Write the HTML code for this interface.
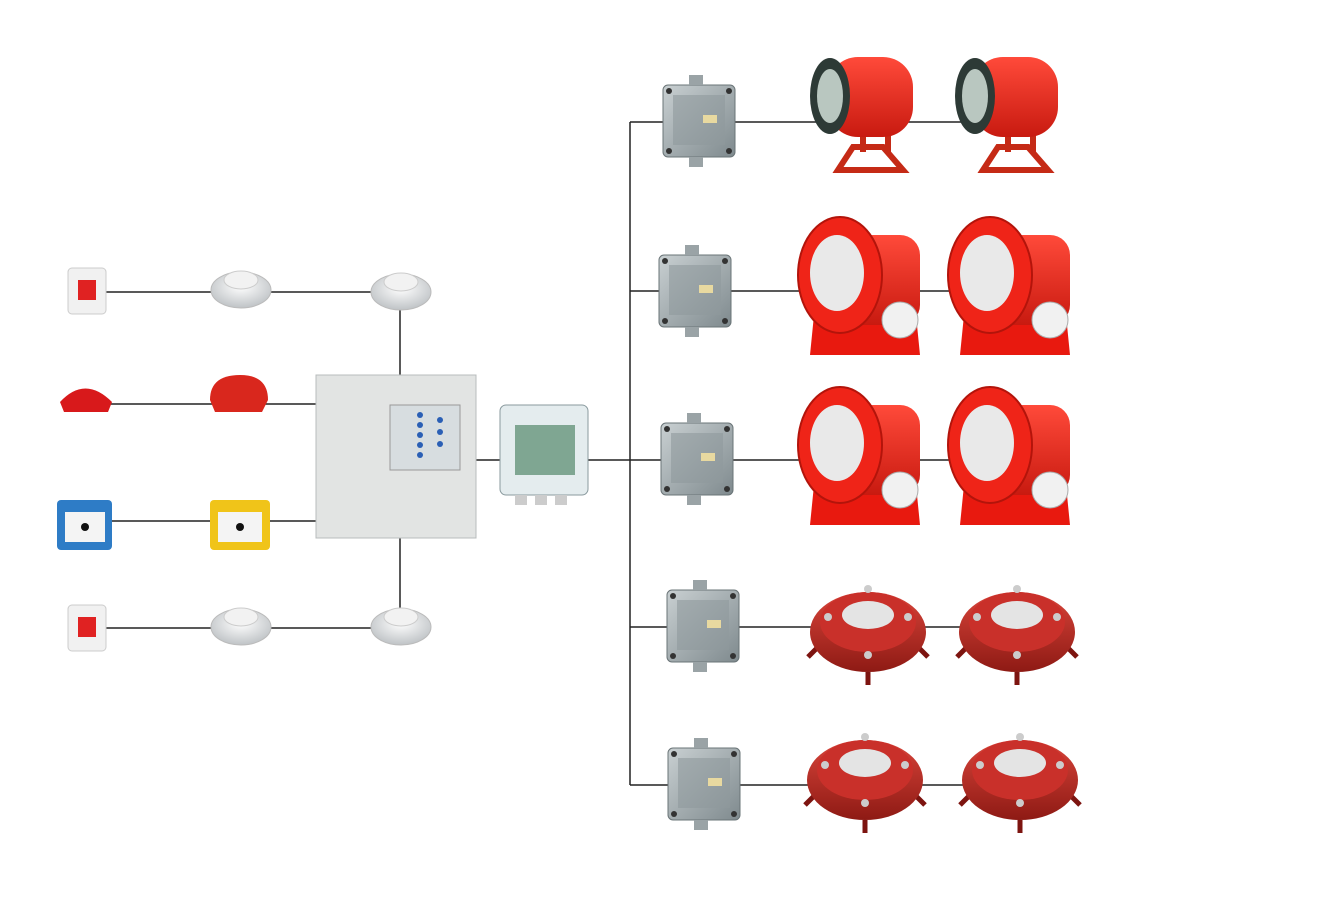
<!DOCTYPE html>
<html><head><meta charset="utf-8"><style>
html,body{margin:0;padding:0;background:#fff;}
svg{display:block}
</style></head><body>
<svg width="1325" height="906" viewBox="0 0 1325 906" xmlns="http://www.w3.org/2000/svg">
<defs>
<linearGradient id="red" x1="0" y1="0" x2="0" y2="1"><stop offset="0" stop-color="#ff4a3a"/><stop offset="1" stop-color="#c81a10"/></linearGradient>
<linearGradient id="dred" x1="0" y1="0" x2="0" y2="1"><stop offset="0" stop-color="#d8443a"/><stop offset="1" stop-color="#8e1a14"/></linearGradient>
<linearGradient id="grey" x1="0" y1="0" x2="1" y2="1"><stop offset="0" stop-color="#c9d0d2"/><stop offset="1" stop-color="#7f8a8e"/></linearGradient>
<radialGradient id="det" cx="0.5" cy="0.4" r="0.6"><stop offset="0" stop-color="#ffffff"/><stop offset="1" stop-color="#bfc3c6"/></radialGradient>
<g id="module">
<rect x="0" y="0" width="72" height="72" rx="5" fill="url(#grey)" stroke="#6a7477"/>
<rect x="10" y="10" width="52" height="50" fill="#8f9a9d" opacity="0.6"/>
<rect x="40" y="30" width="14" height="8" fill="#e8d9a0"/>
<circle cx="6" cy="6" r="3" fill="#333"/><circle cx="66" cy="6" r="3" fill="#333"/>
<circle cx="6" cy="66" r="3" fill="#333"/><circle cx="66" cy="66" r="3" fill="#333"/>
<rect x="26" y="-10" width="14" height="10" fill="#9aa3a6"/>
<rect x="26" y="72" width="14" height="10" fill="#9aa3a6"/>
</g>
<g id="horn">
<path d="M30 118 L45 95 L75 95 L95 118 Z" fill="none" stroke="#c52a16" stroke-width="6"/>
<path d="M55 70 L55 100 M80 70 L80 100" stroke="#c52a16" stroke-width="6"/>
<rect x="20" y="5" width="85" height="80" rx="30" fill="url(#red)"/>
<ellipse cx="22" cy="44" rx="20" ry="38" fill="#2d3a36"/>
<ellipse cx="22" cy="44" rx="13" ry="27" fill="#b9c7c0"/>
</g>
<g id="cyl">
<path d="M20 90 L120 90 L125 140 L15 140 Z" fill="#e8190f"/>
<rect x="40" y="20" width="85" height="90" rx="20" fill="url(#red)"/>
<ellipse cx="45" cy="60" rx="42" ry="58" fill="#ef2418" stroke="#b3140b" stroke-width="2"/>
<ellipse cx="42" cy="58" rx="27" ry="38" fill="#e9e9e9"/>
<circle cx="105" cy="105" r="18" fill="#f1f1f1" stroke="#aaa"/>
</g>
<g id="bell">
<path d="M10 70 L0 80 M110 70 L120 80 M60 95 L60 108" stroke="#7d1410" stroke-width="5"/>
<ellipse cx="60" cy="55" rx="58" ry="40" fill="url(#dred)"/>
<ellipse cx="60" cy="45" rx="48" ry="30" fill="#c9302a"/>
<ellipse cx="60" cy="38" rx="26" ry="14" fill="#e4e4e4"/>
<circle cx="20" cy="40" r="4" fill="#ccc"/><circle cx="100" cy="40" r="4" fill="#ccc"/>
<circle cx="60" cy="12" r="4" fill="#ccc"/><circle cx="60" cy="78" r="4" fill="#ccc"/>
</g>
<g id="detector">
<ellipse cx="30" cy="24" rx="30" ry="18" fill="url(#det)" stroke="#bbb"/>
<ellipse cx="30" cy="14" rx="17" ry="9" fill="#f2f2f2" stroke="#ccc"/>
</g>
<g id="mcp">
<rect x="0" y="0" width="38" height="46" rx="4" fill="#f1f1f1" stroke="#ccc"/>
<rect x="10" y="12" width="18" height="20" fill="#e02222"/>
</g>
</defs>
<g stroke="#222" stroke-width="1.5" fill="none">
<line x1="100" y1="292" x2="400" y2="292"/>
<line x1="100" y1="404" x2="316" y2="404"/>
<line x1="100" y1="521" x2="316" y2="521"/>
<line x1="100" y1="628" x2="400" y2="628"/>
<line x1="400" y1="300" x2="400" y2="375"/>
<line x1="400" y1="538" x2="400" y2="615"/>
<line x1="476" y1="460" x2="500" y2="460"/>
<line x1="585" y1="460" x2="665" y2="460"/>
<line x1="630" y1="122" x2="630" y2="785"/>
<line x1="630" y1="122" x2="1010" y2="122"/>
<line x1="630" y1="291" x2="1000" y2="291"/>
<line x1="630" y1="627" x2="1010" y2="627"/>
<line x1="630" y1="785" x2="1010" y2="785"/>
<line x1="665" y1="460" x2="1000" y2="460"/>
</g>
<use href="#mcp" x="68" y="268"/>
<use href="#mcp" x="68" y="605"/>
<use href="#detector" x="211" y="266"/>
<use href="#detector" x="371" y="268"/>
<use href="#detector" x="211" y="603"/>
<use href="#detector" x="371" y="603"/>
<path d="M60 402 Q85 375 112 402 L108 412 L64 412 Z" fill="#d8191b"/>
<path d="M210 400 Q210 375 240 375 Q268 375 268 400 L262 412 L215 412 Z" fill="#d9271d"/>
<rect x="57" y="500" width="55" height="50" rx="4" fill="#2e7cc6"/>
<rect x="65" y="512" width="40" height="30" fill="#f4f4f4"/>
<rect x="210" y="500" width="60" height="50" rx="4" fill="#f0c419"/>
<rect x="218" y="512" width="44" height="30" fill="#f4f4f4"/>
<circle cx="85" cy="527" r="4" fill="#111"/><circle cx="240" cy="527" r="4" fill="#111"/>
<rect x="316" y="375" width="160" height="163" fill="#e2e4e3" stroke="#b8bcbc"/>
<rect x="390" y="405" width="70" height="65" fill="#d7dde0" stroke="#999"/>
<g fill="#2a5fb5"><circle cx="420" cy="415" r="3"/><circle cx="420" cy="425" r="3"/><circle cx="420" cy="435" r="3"/><circle cx="420" cy="445" r="3"/><circle cx="420" cy="455" r="3"/><circle cx="440" cy="420" r="3"/><circle cx="440" cy="432" r="3"/><circle cx="440" cy="444" r="3"/></g>
<rect x="500" y="405" width="88" height="90" rx="6" fill="#e4ecee" stroke="#8a9a9e"/>
<rect x="515" y="425" width="60" height="50" fill="#7fa692"/>
<rect x="515" y="495" width="12" height="10" fill="#ccc"/><rect x="535" y="495" width="12" height="10" fill="#ccc"/><rect x="555" y="495" width="12" height="10" fill="#ccc"/>
<use href="#module" x="663" y="85"/>
<use href="#module" x="659" y="255"/>
<use href="#module" x="661" y="423"/>
<use href="#module" x="667" y="590"/>
<use href="#module" x="668" y="748"/>
<use href="#horn" x="808" y="52"/>
<use href="#horn" x="953" y="52"/>
<use href="#cyl" x="795" y="215"/>
<use href="#cyl" x="945" y="215"/>
<use href="#cyl" x="795" y="385"/>
<use href="#cyl" x="945" y="385"/>
<use href="#bell" x="808" y="577"/>
<use href="#bell" x="957" y="577"/>
<use href="#bell" x="805" y="725"/>
<use href="#bell" x="960" y="725"/>
</svg>
</body></html>
